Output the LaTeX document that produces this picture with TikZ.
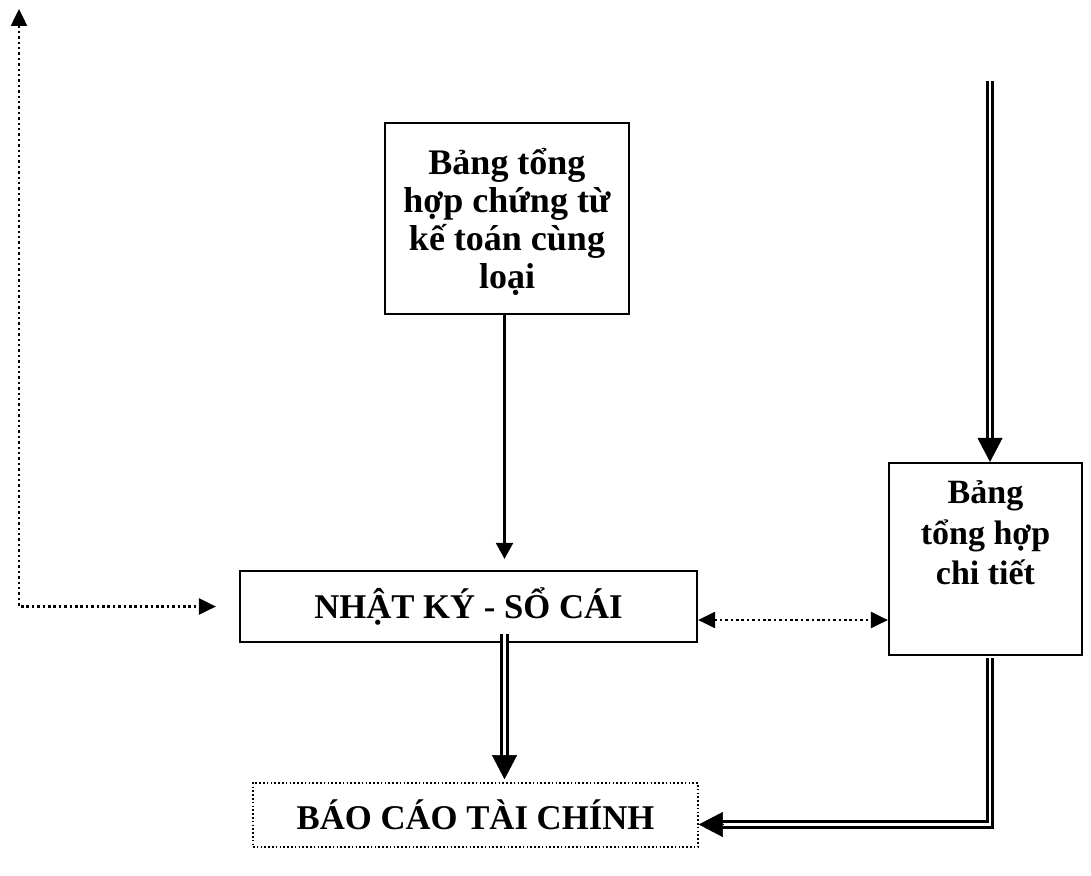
\documentclass[tikz,border=0pt]{standalone}
\usepackage{fontspec}
\setmainfont{Liberation Serif}
\usetikzlibrary{arrows.meta,calc}

\tikzset{
  smallhead/.tip={Triangle[length=17pt,width=16pt]},
  bigtip/.tip={Triangle[length=24pt,width=25pt]},
}

\begin{document}
\begin{tikzpicture}[x=1pt,y=-1pt,
  box/.style={draw, line width=2.2pt, inner sep=0pt},
  dotbox/.style={draw, line width=1.6pt, dash pattern=on 1.6pt off 2.2pt, inner sep=0pt},
  lbl/.style={font=\fontsize{36}{38}\selectfont\bfseries, align=center, inner sep=0pt},
  lblwide/.style={font=\fontsize{34}{40.5}\selectfont\bfseries, align=center, inner sep=0pt},
  flow/.style={line width=2.2pt, -{Triangle[length=16pt,width=17pt]}},
  dotflow/.style={line width=2.5pt, dash pattern=on 2.5pt off 2.9pt},
  dblflow/.style={line width=3pt, double distance=2.5pt, double=white},
  bighead/.style={line width=0.4pt, -bigtip},
]
\useasboundingbox[fill=white] (0,0) rectangle (1091,875);

% boxes
\node[box, minimum width=244pt, minimum height=191pt] (src) at (507,218.5) {};
\node[lbl] (srctext) at (507,222) {Bảng tổng\\hợp chứng từ\\kế toán cùng\\loại};

\node[box, minimum width=457pt, minimum height=71pt] (nksc) at (468.5,606.5)
  {\fontsize{34.7}{40}\selectfont\bfseries NHẬT KÝ - SỔ CÁI};

\node[box, minimum width=193pt, minimum height=192pt] (ct) at (985.5,559) {};
\node[lblwide] (cttext) at (985.5,533) {Bảng\\tổng hợp\\chi tiết};

\node[dotbox, minimum width=445pt, minimum height=64pt] (bctc) at (475.5,815)
  {\fontsize{34.7}{40}\selectfont\bfseries BÁO CÁO TÀI CHÍNH};

% reference points of the free connector ends
\coordinate (tl) at (19,9);
\coordinate (rin) at (990,81);
\coordinate (ax) at (504.5,0);
\coordinate (bend) at ($(bctc.east)+(0,9.5)$);

% single arrow into the ledger
\draw[flow, shorten >=11pt] (ax |- src.south) -- (ax |- nksc.north);

% dotted links
\draw[dotflow, smallhead-smallhead, shorten >=23pt]
  (tl) -- (tl |- nksc.west) -- (nksc.west);
\draw[dotflow, smallhead-smallhead]
  ($(nksc.east)+(0,13.5)$) -- ($(ct.west |- nksc.east)+(0,13.5)$);

% double arrows
\draw[dblflow, shorten >=22pt] (rin) -- (rin |- ct.north);
\draw[bighead] ($(rin |- ct.north)+(0,-24)$) -- (rin |- ct.north);

\draw[dblflow, shorten >=22pt] ($(ax |- nksc.south)+(0,-9)$) -- ($(ax |- bctc.north)+(0,-3)$);
\draw[bighead] ($(ax |- bctc.north)+(0,-27)$) -- ($(ax |- bctc.north)+(0,-3)$);

\draw[dblflow, shorten >=22pt] ($(rin |- ct.south)+(0,1.5)$) -- (rin |- bend) -- (bend);
\draw[bighead] ($(bend)+(24,0)$) -- (bend);
\end{tikzpicture}
\end{document}
